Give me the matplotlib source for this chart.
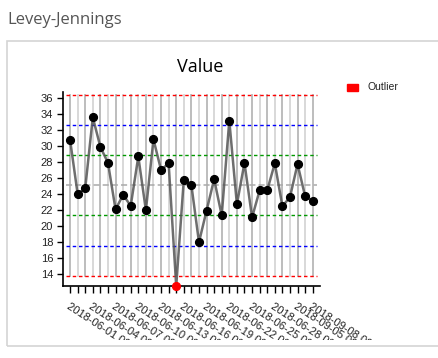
import matplotlib
matplotlib.use("Agg")
import matplotlib.pyplot as plt
from matplotlib.transforms import Bbox
from matplotlib.patches import Rectangle

# ---- data ----
dates = ([f"2018-06-{d:02d} 00" for d in range(1, 31)] +
         ["2018-09-05 00", "2018-09-06 00", "2018-09-08 00"])
values = [30.8, 24.0, 24.7, 33.6, 29.9, 27.9, 22.05, 23.9, 22.5, 28.7,
          21.95, 30.85, 27.0, 27.85, 12.45, 25.8, 25.1, 17.95, 21.9, 25.85,
          21.3, 33.2, 22.7, 27.9, 21.05, 24.45, 24.45, 27.85, 22.45, 23.6,
          27.75, 23.7, 23.15]
label_idx = [0, 3, 6, 9, 12, 15, 18, 21, 24, 27, 30, 32]
y_ticks = [14, 16, 18, 20, 22, 24, 26, 28, 30, 32, 34, 36]
mean_val = 25.07
sd_val = 3.77

W, H = 439, 358
fig = plt.figure(figsize=(W / 100, H / 100), dpi=100)
fig.patch.set_facecolor("white")

# header & panel
fig.text(7.5 / W, 1 - 20 / H, "Levey-Jennings", fontsize=12, color="#555555",
         family="Open Sans", va="center", ha="left")
fig.patches.append(Rectangle((7.5 / W, 1 - 346 / H), 1.2, (346 - 40.5) / H,
                             transform=fig.transFigure, fill=False,
                             edgecolor="#d4d4d4", lw=1.2))

ax = fig.add_axes([63 / W, 1 - 286 / H, (320 - 63) / W, (286 - 91.7) / H])
n = len(values)
x = list(range(n))

lo3 = mean_val - 3 * sd_val
hi3 = mean_val + 3 * sd_val

# vertical grid per point
for i in x:
    ax.plot([i, i], [lo3, hi3], color="#b8b8b8" if i % 2 == 0 else "#d6d6d6",
            lw=1.3, zorder=1)

# control lines
ctrl = [(3, "#ff0000"), (2, "#0000ff"), (1, "#009900")]
for k, c in ctrl:
    for s in (1, -1):
        ax.plot([-0.5, n - 0.5], [mean_val + s * k * sd_val] * 2, color=c,
                lw=1.0, dashes=(2.5, 2), zorder=2)
ax.plot([-0.5, n - 0.5], [mean_val] * 2, color="#aaaaaa", lw=1.1,
        dashes=(4, 2), zorder=2)

ax.plot(x, values, color="#555555", lw=1.8, alpha=0.85, zorder=3)
outl = [i for i, v in enumerate(values) if v < lo3 or v > hi3]
norm = [i for i in x if i not in outl]
ax.plot(norm, [values[i] for i in norm], "o", color="black", ms=5.6,
        zorder=4, clip_on=False)
ax.plot(outl, [values[i] for i in outl], "o", color="red", ms=5.6,
        zorder=5, clip_on=False)

ax.set_xlim(-0.93, 32.96)
ax.set_ylim(12.45, 36.83)
for sp in ("top", "right"):
    ax.spines[sp].set_visible(False)
for sp in ("left", "bottom"):
    ax.spines[sp].set_linewidth(1.2)
    ax.spines[sp].set_color("black")

ax.set_yticks(y_ticks)
ax.set_yticklabels([str(t) for t in y_ticks], family="Liberation Sans",
                   fontsize=8, color="#222222")
ax.tick_params(axis="y", length=4.5, width=1, pad=2.5)

ax.set_xticks(x)
ax.set_xticklabels([dates[i] if i in label_idx else "" for i in x],
                   family="Liberation Sans", fontsize=8, color="#222222",
                   rotation=-33, ha="left", va="top", rotation_mode="anchor")
ax.tick_params(axis="x", length=5, width=1, pad=6)

clip = Bbox.from_extents(0, H - 340, W, H)
for lbl in ax.get_xticklabels():
    lbl.set_clip_on(True)
    lbl.set_clip_box(clip)

fig.text(200 / W, 1 - 67 / H, "Value", fontsize=13, family="Open Sans",
         ha="center", va="center", color="black")

# legend
fig.patches.append(Rectangle((347 / W, 1 - 90.5 / H), 11 / W, 6 / H,
                             transform=fig.transFigure, color="red"))
fig.text(367 / W, 1 - 87.5 / H, "Outlier", fontsize=7.5,
         family="Liberation Sans", va="center", ha="left", color="#222222")

fig.savefig("out.png", dpi=100)
